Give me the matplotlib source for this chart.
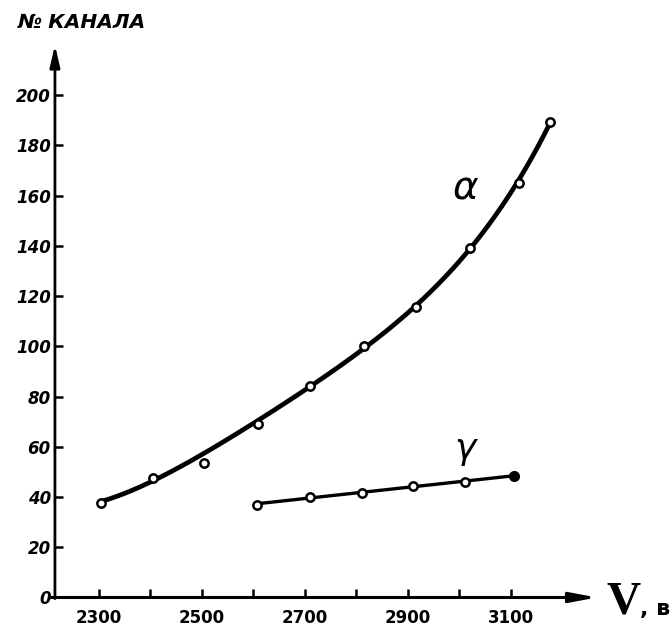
import matplotlib.pyplot as plt
import numpy as np

# alpha-line: channel number vs voltage
alpha_v = [2305, 2405, 2505, 2610, 2710, 2815, 2915, 3020, 3115, 3175]
alpha_ch = [37.8, 47.5, 53.5, 69.1, 84.3, 100.2, 115.7, 139.2, 165.0, 189.2]
# the 2500 V point sits off the drawn curve
alpha_off = [2]

# gamma-line
gamma_v = [2608, 2710, 2810, 2910, 3010, 3105]
gamma_ch = [36.9, 40.2, 41.7, 44.4, 46.1, 48.4]

x_major = [2300, 2500, 2700, 2900, 3100]
x_minor = [2400, 2600, 2800, 3000]
y_ticks = [0, 20, 40, 60, 80, 100, 120, 140, 160, 180, 200]


fig = plt.figure(figsize=(6.7, 6.38), dpi=100)
fig.set_facecolor('white')
ax = fig.add_axes([0.082, 0.0635, 0.809, 0.866])
ax.set_xlim(2215, 3267)
ax.set_ylim(0, 220)

for s in ax.spines.values():
    s.set_visible(False)

# axis arrows
ax.annotate('', xy=(0, 1), xytext=(0, -0.002), xycoords='axes fraction',
            arrowprops=dict(arrowstyle='-|>,head_length=1.3,head_width=0.3',
                            lw=2.0, color='black', shrinkA=0, shrinkB=0))
ax.annotate('', xy=(1, 0), xytext=(-0.008, 0), xycoords='axes fraction',
            arrowprops=dict(arrowstyle='-|>,head_length=1.6,head_width=0.3',
                            lw=2.2, color='black', shrinkA=0, shrinkB=0))

# smooth alpha curve (outlier left out of the fit)
av = np.array(alpha_v, dtype=float)
ach = np.array(alpha_ch, dtype=float)
keep = np.ones(len(av), dtype=bool)
keep[alpha_off] = False
u = (av - 2700) / 500
coef = np.polyfit(u[keep], ach[keep], 4)
xs = np.linspace(av.min(), av.max(), 300)
ax.plot(xs, np.polyval(coef, (xs - 2700) / 500), color='black', lw=3.4,
        solid_capstyle='round')
ax.plot(alpha_v, alpha_ch, 'o', ms=6, mfc='white', mec='black', mew=1.8)

# gamma straight line
gv = np.array(gamma_v, dtype=float)
gcoef = np.polyfit(gv, gamma_ch, 1)
gx = np.array([gv.min(), gv.max()])
ax.plot(gx, np.polyval(gcoef, gx), color='black', lw=2.4)
ax.plot(gamma_v[:-1], gamma_ch[:-1], 'o', ms=6, mfc='white', mec='black', mew=1.8)
ax.plot(gamma_v[-1:], gamma_ch[-1:], 'o', ms=7, color='black')

ax.text(3013, 163, 'α', fontsize=28, style='italic', ha='center', va='center')
ax.text(3011, 59, 'γ', fontsize=26, style='italic', ha='center', va='center')

ax.set_xticks(x_major)
ax.set_xticklabels([str(v) for v in x_major], fontsize=12, fontweight='bold')
ax.set_xticks(x_minor, minor=True)
ax.set_yticks(y_ticks)
ax.set_yticklabels([str(v) for v in y_ticks], fontsize=12, fontweight='bold', style='italic')
ax.tick_params(axis='both', which='both', direction='in', width=1.8, length=6)
ax.tick_params(axis='x', pad=8)
ax.tick_params(axis='y', pad=3)

fig.text(0.027, 0.965, '№ КАНАЛА', fontsize=14.5, fontweight='bold', style='italic',
         ha='left', va='center')
fig.text(0.905, 0.055, 'V', fontsize=34, fontweight='bold', family='Liberation Serif',
         ha='left', va='center')
fig.text(0.955, 0.045, ', в', fontsize=16, fontweight='bold', ha='left', va='center')

fig.savefig('out.png', dpi=100)
